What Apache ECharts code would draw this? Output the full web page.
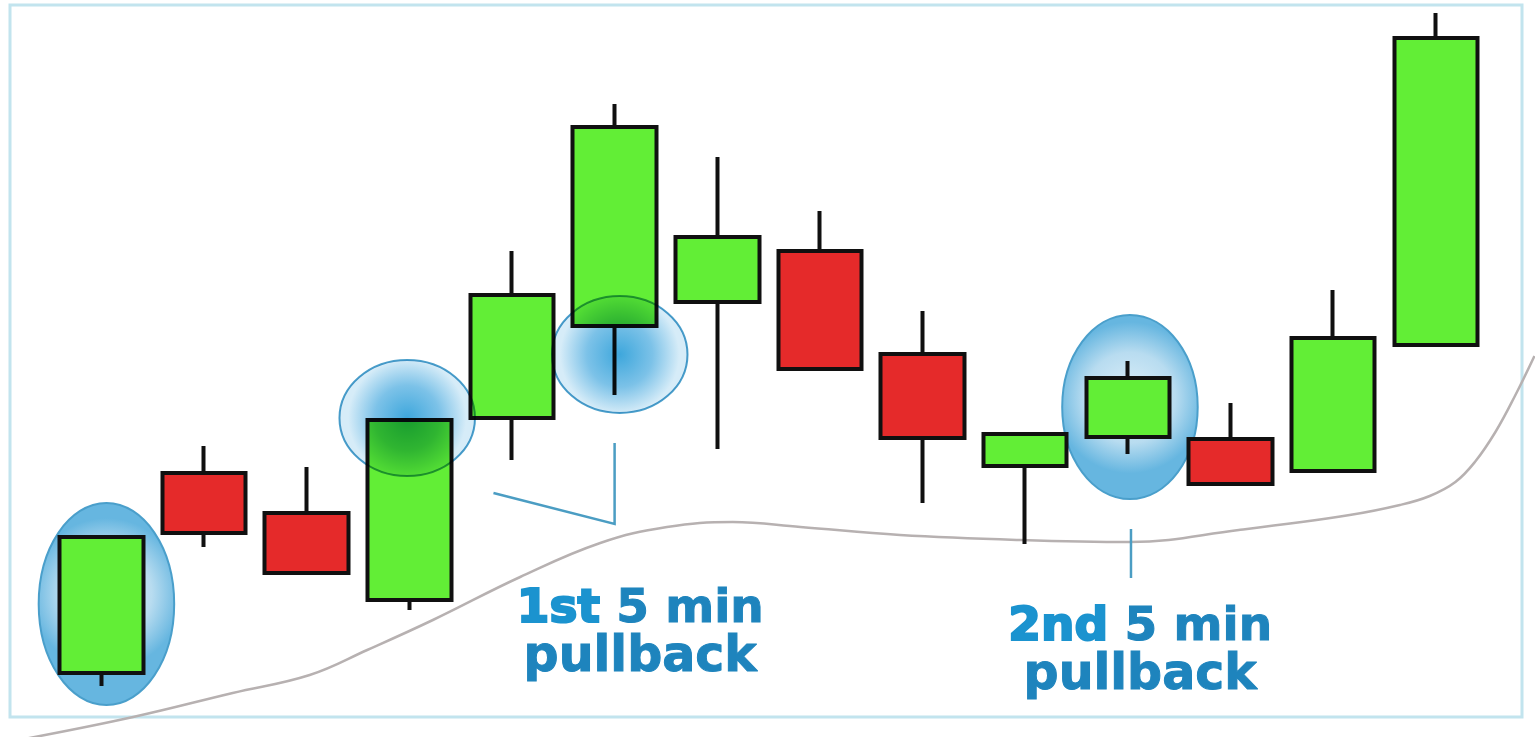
<!DOCTYPE html>
<html>
<head>
<meta charset="utf-8">
<script src="https://cdn.jsdelivr.net/npm/echarts@6/dist/echarts.min.js"></script>
<style>
html,body{margin:0;padding:0;background:#fff;}
#chart{width:1535px;height:737px;}
</style>
</head>
<body>
<div id="chart"></div>
<script>
// ---- data (price units) ----
const categories = ['09:30','09:35','09:40','09:45','09:50','09:55','10:00','10:05','10:10','10:15','10:20','10:25','10:30','10:35'];
const opens  = [6.4, 26.4, 22.4, 13.7, 31.9, 41.1, 43.5, 48.6, 38.3, 27.1, 30.0, 29.8, 26.6, 39.2];
const closes = [20.0, 20.4, 16.4, 31.7, 44.2, 61.0, 50.0, 36.8, 29.9, 30.3, 35.9, 25.3, 39.9, 69.9];
const lows   = [5.1, 19.0, 16.4, 12.7, 27.7, 34.2, 28.8, 36.8, 23.4, 19.3, 28.3, 25.3, 26.6, 39.2];
const highs  = [20.0, 29.1, 27.0, 31.7, 48.6, 63.3, 58.0, 52.6, 42.6, 30.3, 37.6, 33.4, 44.7, 72.4];

// moving-average curve (x = candle index, y = price)
const maX = [-0.75, 0.31, 1.28, 2.03, 2.59, 3.23, 4.08, 4.86, 5.51, 6.15, 6.81, 7.78, 8.95, 10.02, 11.08, 12.16, 12.65, 12.94, 13.19, 13.38, 13.58, 13.77, 13.96];
const maY = [-0.2, 2.0, 4.4, 6.2, 8.7, 11.7, 16.0, 19.4, 21.0, 21.5, 21.0, 20.2, 19.7, 19.5, 20.7, 22.2, 23.2, 24.1, 25.5, 27.5, 30.5, 34.1, 38.1];

// highlighted zones: [candle index, low price, high price]
const highlightsBack  = [[0.05, 3.2, 23.4], [10.02, 23.8, 42.2]];
const highlightsFront = [[2.98, 26.1, 37.7], [5.05, 32.4, 44.1]];

// annotation leader lines: lists of [index, price]
const leaders = [
  [[3.82, 24.4], [5.00, 21.3], [5.00, 29.4]],
  [[10.03, 20.8], [10.03, 15.9]]
];
// annotation labels: [index, price at top of text]
const labelOrdinals = ['1st', '2nd'];
const labelPos = [[5.25, 15.1], [10.12, 13.3]];
const labelMid = '5 min';
const labelBottom = 'pullback';

// ---- layout of the index axis (candle spacing in px, first candle centre) ----
const W = 1535, STEP = 102.66, FIRST = 101.3;
const X_MIN = -FIRST / STEP, X_MAX = (W - FIRST) / STEP;

const candleData = categories.map((c, i) => [i, opens[i], closes[i], lows[i], highs[i]]);
const maData = maX.map((x, i) => [x, maY[i]]);
const HALF_W = 0.66; // ellipse half width in candle units

function ellipseRenderer(front) {
  return function (params, api) {
    const cx = api.value(0), lo = api.value(1), hi = api.value(2);
    const pTop = api.coord([cx, hi]);
    const pBot = api.coord([cx, lo]);
    const pR = api.coord([cx + HALF_W, lo]);
    const shape = {
      cx: pTop[0],
      cy: (pTop[1] + pBot[1]) / 2,
      rx: Math.abs(pR[0] - pTop[0]),
      ry: Math.abs(pBot[1] - pTop[1]) / 2
    };
    const fill = front ? {
      type: 'radial', x: 0.5, y: 0.5, r: 0.5,
      colorStops: [{offset: 0, color: '#3ea7dc'}, {offset: 0.55, color: '#7cc2e8'}, {offset: 1, color: '#d6ecf8'}]
    } : {
      type: 'radial', x: 0.5, y: 0.45, r: 0.55,
      colorStops: [{offset: 0, color: '#dff0f9'}, {offset: 0.6, color: '#b8dcf0'}, {offset: 1, color: '#66b6e0'}]
    };
    return {
      type: 'ellipse',
      name: front ? 'hlFront' : 'hlBack',
      shape: shape,
      style: {fill: fill, stroke: '#4a9fcb', lineWidth: 2}
    };
  };
}

const chart = echarts.init(document.getElementById('chart'), null, {renderer: 'canvas'});
chart.setOption({
  animation: false,
  backgroundColor: '#ffffff',
  grid: {left: 0, right: 0, top: 0, bottom: 0},
  xAxis: {type: 'value', min: X_MIN, max: X_MAX, show: false},
  yAxis: {type: 'value', min: 0, max: 73.7, show: false},
  graphic: [{
    type: 'rect', z: 0, silent: true,
    shape: {x: 10, y: 5, width: 1512, height: 712},
    style: {fill: 'none', stroke: '#c2e4ee', lineWidth: 3}
  }],
  series: [
    {
      type: 'line', data: maData, smooth: 0.4, clip: false,
      showSymbol: false, z: 1,
      lineStyle: {color: '#b7b1b1', width: 2.5}
    },
    {
      type: 'custom', data: highlightsBack, z: 2, clip: false,
      renderItem: ellipseRenderer(false)
    },
    {
      type: 'candlestick', data: candleData, barWidth: 84, z: 3,
      encode: {x: 0, y: [1, 2, 3, 4]},
      itemStyle: {
        color: '#62ee36', color0: '#e52a2a',
        borderColor: '#101010', borderColor0: '#101010', borderColorDoji: '#101010',
        borderWidth: 4
      }
    },
    {
      type: 'custom', data: highlightsFront, z: 4, clip: false,
      renderItem: ellipseRenderer(true)
    },
    {
      type: 'custom', data: leaders.map((l, i) => [i]), z: 5, clip: false,
      renderItem: function (params, api) {
        const pts = leaders[params.dataIndex].map(p => api.coord(p));
        return {type: 'polyline', shape: {points: pts}, style: {fill: 'none', stroke: '#4b9dc3', lineWidth: 2.5}};
      }
    },
    {
      type: 'custom', data: labelPos, z: 6, clip: false,
      renderItem: function (params, api) {
        const p = api.coord([api.value(0), api.value(1)]);
        return {
          type: 'text', x: p[0], y: p[1],
          style: {
            text: '{h|' + labelOrdinals[params.dataIndex] + '}{b| ' + labelMid + '}\n{c|' + labelBottom + '}',
            align: 'center', verticalAlign: 'top',
            rich: {
              h: {fontFamily: 'DejaVu Sans', fontWeight: 'bold', fontSize: 47, lineHeight: 48, fill: '#1b93cf', stroke: '#1b93cf', lineWidth: 2.2},
              b: {fontFamily: 'DejaVu Sans', fontWeight: 'bold', fontSize: 47, lineHeight: 48, fill: '#1e84bd', stroke: '#1e84bd', lineWidth: 1},
              c: {fontFamily: 'DejaVu Sans', fontWeight: 'bold', fontSize: 49, lineHeight: 48, fill: '#1e84bd', stroke: '#1e84bd', lineWidth: 1}
            }
          }
        };
      }
    }
  ]
});

// make the front highlight ellipses tint what lies beneath them
(function applyBlend() {
  const zr = chart.getZr();
  zr.storage.getDisplayList(true).forEach(function (el) {
    if (el.name === 'hlFront') {
      el.style.blend = 'multiply';
      el.markRedraw();
    }
  });
  zr.refreshImmediately();
})();
</script>
</body>
</html>
